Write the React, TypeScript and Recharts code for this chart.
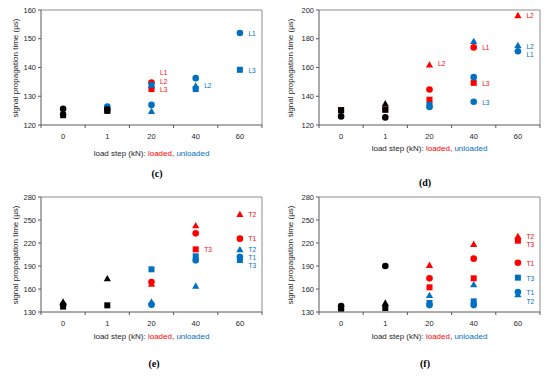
import React from 'react';
import { ScatterChart, Scatter, XAxis, YAxis, ReferenceLine } from 'recharts';

const categories = ['0', '1', '20', '40', '60'];
type Pt = [string, number];
type Lb = [string, number, string];

const RED = '#FF0000';
const BLUE = '#0070C0';
const BLACK = '#000000';

// Panel (c)
const cBlackCircle: Pt[] = [['0', 125.6], ['1', 125.5]];
const cBlackTriangle: Pt[] = [['0', 124.4], ['1', 125.3]];
const cBlackSquare: Pt[] = [['0', 123.4], ['1', 124.9]];
const cRedCircle: Pt[] = [['20', 134.8]];
const cRedTriangle: Pt[] = [['20', 133.6]];
const cRedSquare: Pt[] = [['20', 132.5]];
const cBlueCircle: Pt[] = [['1', 126.4], ['20', 127], ['40', 136.3], ['60', 152]];
const cBlueTriangle: Pt[] = [['20', 124.8], ['40', 133.6]];
const cBlueSquare: Pt[] = [['20', 133.9], ['40', 132.5], ['60', 139.2]];
const cRedLabels: Lb[] = [['20', 138.4, 'L1'], ['20', 135.3, 'L2'], ['20', 132.2, 'L3']];
const cBlueLabels: Lb[] = [['40', 133.9, 'L2'], ['60', 151.8, 'L1'], ['60', 139, 'L3']];
const cTicks = [120, 130, 140, 150, 160];

// Panel (d)
const dBlackCircle: Pt[] = [['0', 126], ['1', 125.3]];
const dBlackTriangle: Pt[] = [['1', 134.8]];
const dBlackSquare: Pt[] = [['0', 130.3], ['1', 130.6]];
const dRedCircle: Pt[] = [['20', 144.7], ['40', 174]];
const dRedTriangle: Pt[] = [['20', 161.8], ['60', 196.2]];
const dRedSquare: Pt[] = [['0', 130.4], ['1', 130.8], ['20', 137.6], ['40', 149.3]];
const dBlueCircle: Pt[] = [['20', 132.6], ['40', 153.3], ['40', 136.2], ['60', 171.3]];
const dBlueTriangle: Pt[] = [['40', 178.2], ['60', 175.4]];
const dBlueSquare: Pt[] = [['20', 134]];
const dRedLabels: Lb[] = [['20', 163, 'L2'], ['40', 173.6, 'L1'], ['40', 149, 'L3'], ['60', 196.2, 'L2']];
const dBlueLabels: Lb[] = [['40', 135.9, 'L3'], ['60', 174.7, 'L2'], ['60', 168.7, 'L1']];
const dTicks = [120, 140, 160, 180, 200];

// Panel (e)
const eBlackCircle: Pt[] = [['0', 139.5]];
const eBlackTriangle: Pt[] = [['0', 143], ['1', 173.5]];
const eBlackSquare: Pt[] = [['0', 137], ['1', 138.7]];
const eRedCircle: Pt[] = [['20', 169.1], ['40', 232.6], ['60', 225.7]];
const eRedTriangle: Pt[] = [['20', 166.5], ['40', 242.6], ['60', 257.4]];
const eRedSquare: Pt[] = [['40', 211.7]];
const eBlueCircle: Pt[] = [['20', 139.6], ['40', 197.4], ['60', 202]];
const eBlueTriangle: Pt[] = [['20', 143], ['40', 163.9], ['60', 211.3]];
const eBlueSquare: Pt[] = [['20', 185.7], ['40', 202.6], ['60', 197.8]];
const eRedLabels: Lb[] = [['60', 257.4, 'T2'], ['60', 225.7, 'T1'], ['40', 210.9, 'T3']];
const eBlueLabels: Lb[] = [['60', 211.2, 'T2'], ['60', 201.2, 'T1'], ['60', 190.8, 'T3']];
const efTicks = [130, 160, 190, 220, 250, 280];

// Panel (f)
const fBlackCircle: Pt[] = [['0', 137.8], ['1', 190]];
const fBlackTriangle: Pt[] = [['0', 136.5], ['1', 141.7]];
const fBlackSquare: Pt[] = [['0', 134.5], ['1', 135.2]];
const fRedCircle: Pt[] = [['20', 173.9], ['40', 199.6], ['60', 194.3]];
const fRedTriangle: Pt[] = [['20', 190.9], ['40', 218.3], ['60', 228.7]];
const fRedSquare: Pt[] = [['20', 162.2], ['40', 173.9], ['60', 223]];
const fBlueCircle: Pt[] = [['20', 139], ['40', 139], ['60', 156.1]];
const fBlueTriangle: Pt[] = [['20', 151.7], ['40', 165.7], ['60', 152.6]];
const fBlueSquare: Pt[] = [['20', 141.7], ['40', 143.9], ['60', 174.8]];
const fRedLabels: Lb[] = [['60', 228.9, 'T2'], ['60', 218.1, 'T3'], ['60', 193.9, 'T1']];
const fBlueLabels: Lb[] = [['60', 174.3, 'T3'], ['60', 155.2, 'T1'], ['60', 143.9, 'T2']];

const FONT = '"Liberation Sans", Arial, sans-serif';
const AXIS = '#595959';
const FRAME = '#8c8c8c';

type Shape = 'circle' | 'triangle' | 'square';
interface Series { pts: Pt[]; color: string; shape: Shape }

const toData = (pts: Pt[]) => pts.map(([c, v]) => ({ x: categories.indexOf(c), y: v }));
const toLabelData = (lbs: Lb[]) => lbs.map(([c, v, t]) => ({ x: categories.indexOf(c), y: v, t }));

const makeShape = (shape: Shape, color: string) => (props: any) => {
  const { cx, cy } = props;
  if (cx == null || cy == null) return <g />;
  if (shape === 'circle') return <circle cx={cx} cy={cy} r={3.3} fill={color} />;
  if (shape === 'square') return <rect x={cx - 3} y={cy - 3} width={6} height={6} fill={color} />;
  return (
    <polygon
      points={`${cx},${cy - 3.7} ${cx - 3.6},${cy + 2.7} ${cx + 3.6},${cy + 2.7}`}
      fill={color}
    />
  );
};

const makeLabel = (color: string) => (props: any) => {
  const { cx, cy, payload } = props;
  return (
    <text x={cx + 8.5} y={cy} dominantBaseline="central" fontSize={6.6} fill={color} fontFamily={FONT}>
      {payload.t}
    </text>
  );
};

const XTick = (props: any) => {
  const { x, y, payload } = props;
  const v = payload.value;
  if (Math.abs(v % 1) > 0.01) {
    return <line x1={x} x2={x} y1={y} y2={y + 3} stroke={AXIS} strokeWidth={1} />;
  }
  return (
    <text x={x} y={y + 11} textAnchor="middle" dominantBaseline="central" fontSize={7.5} fill="#262626" fontFamily={FONT}>
      {categories[v]}
    </text>
  );
};

const xTicks = [-0.5, 0, 0.5, 1, 1.5, 2, 2.5, 3, 3.5, 4, 4.5];

interface PanelProps {
  left: number;
  top: number;
  plotLeft: number;
  plotRight: number;
  yTicks: number[];
  series: Series[];
  redLabels: Lb[];
  blueLabels: Lb[];
  xTitleY: number;
  caption: string;
  capX: number;
  capY: number;
}

function Panel(p: PanelProps) {
  const W = 275;
  const H = 190;
  const yMin = p.yTicks[0];
  const yMax = p.yTicks[p.yTicks.length - 1];
  const yAxisW = 30;
  return (
    <>
      <div style={{ position: 'absolute', left: p.left, top: p.top, width: W, height: H }}>
        <ScatterChart
          width={W}
          height={H}
          margin={{ top: 10, right: W - p.plotRight, bottom: 45, left: p.plotLeft - yAxisW }}
        >
          <XAxis
            type="number"
            dataKey="x"
            domain={[-0.5, 4.5]}
            ticks={xTicks}
            interval={0}
            tickLine={false}
            tickSize={0}
            tickMargin={0}
            height={20}
            tick={<XTick />}
            stroke={AXIS}
            allowDataOverflow
          />
          <YAxis
            type="number"
            dataKey="y"
            domain={[yMin, yMax]}
            ticks={p.yTicks}
            interval={0}
            width={yAxisW}
            tickSize={3}
            tickMargin={2}
            stroke={AXIS}
            tick={{ fontSize: 7.5, fill: '#262626', fontFamily: FONT }}
            allowDataOverflow
          />
          <ReferenceLine y={yMax} stroke={FRAME} strokeWidth={1} />
          <ReferenceLine x={4.5} stroke={FRAME} strokeWidth={1} />
          {p.series.map((s, i) => (
            <Scatter
              key={i}
              data={toData(s.pts)}
              fill={s.color}
              shape={makeShape(s.shape, s.color)}
              isAnimationActive={false}
            />
          ))}
          <Scatter data={toLabelData(p.redLabels)} shape={makeLabel(RED)} isAnimationActive={false} />
          <Scatter data={toLabelData(p.blueLabels)} shape={makeLabel(BLUE)} isAnimationActive={false} />
        </ScatterChart>
      </div>
      <div
        style={{
          position: 'absolute',
          left: p.left + 15,
          top: p.top + 68,
          transform: 'translate(-50%, -50%) rotate(-90deg)',
          whiteSpace: 'nowrap',
          fontFamily: FONT,
          fontSize: 8,
          color: '#262626',
        }}
      >
        signal propagation time (µs)
      </div>
      <div
        style={{
          position: 'absolute',
          left: p.left + (p.plotLeft + p.plotRight) / 2,
          top: p.xTitleY,
          transform: 'translate(-50%, -50%)',
          whiteSpace: 'nowrap',
          fontFamily: FONT,
          fontSize: 8,
          color: '#262626',
        }}
      >
        load step (kN): <span style={{ color: RED }}>loaded</span>, <span style={{ color: BLUE }}>unloaded</span>
      </div>
      <div
        style={{
          position: 'absolute',
          left: p.capX,
          top: p.capY,
          transform: 'translate(-50%, -50%)',
          whiteSpace: 'nowrap',
          fontFamily: '"Liberation Serif", "Times New Roman", serif',
          fontSize: 10,
          fontWeight: 'bold',
          color: '#000',
        }}
      >
        {p.caption}
      </div>
    </>
  );
}

const seriesOf = (
  rc: Pt[], rt: Pt[], rs: Pt[], bc: Pt[], bt: Pt[], bs: Pt[], kc: Pt[], kt: Pt[], ks: Pt[]
): Series[] => [
  { pts: rt, color: RED, shape: 'triangle' },
  { pts: rs, color: RED, shape: 'square' },
  { pts: rc, color: RED, shape: 'circle' },
  { pts: bt, color: BLUE, shape: 'triangle' },
  { pts: bc, color: BLUE, shape: 'circle' },
  { pts: bs, color: BLUE, shape: 'square' },
  { pts: kc, color: BLACK, shape: 'circle' },
  { pts: kt, color: BLACK, shape: 'triangle' },
  { pts: ks, color: BLACK, shape: 'square' },
];

export default function App() {
  return (
    <div style={{ position: 'absolute', left: 0, top: 0, width: 550, height: 378, background: '#fff', overflow: 'hidden' }}>
      <Panel
        left={0}
        top={0}
        plotLeft={41}
        plotRight={262}
        yTicks={cTicks}
        series={seriesOf(cRedCircle, cRedTriangle, cRedSquare, cBlueCircle, cBlueTriangle, cBlueSquare, cBlackCircle, cBlackTriangle, cBlackSquare)}
        redLabels={cRedLabels}
        blueLabels={cBlueLabels}
        xTitleY={153}
        caption="(c)"
        capX={157}
        capY={173}
      />
      <Panel
        left={275}
        top={0}
        plotLeft={44}
        plotRight={265}
        yTicks={dTicks}
        series={seriesOf(dRedCircle, dRedTriangle, dRedSquare, dBlueCircle, dBlueTriangle, dBlueSquare, dBlackCircle, dBlackTriangle, dBlackSquare)}
        redLabels={dRedLabels}
        blueLabels={dBlueLabels}
        xTitleY={148}
        caption="(d)"
        capX={425}
        capY={182}
      />
      <Panel
        left={0}
        top={187}
        plotLeft={41}
        plotRight={262}
        yTicks={efTicks}
        series={seriesOf(eRedCircle, eRedTriangle, eRedSquare, eBlueCircle, eBlueTriangle, eBlueSquare, eBlackCircle, eBlackTriangle, eBlackSquare)}
        redLabels={eRedLabels}
        blueLabels={eBlueLabels}
        xTitleY={336}
        caption="(e)"
        capX={154}
        capY={363}
      />
      <Panel
        left={275}
        top={187}
        plotLeft={44}
        plotRight={265}
        yTicks={efTicks}
        series={seriesOf(fRedCircle, fRedTriangle, fRedSquare, fBlueCircle, fBlueTriangle, fBlueSquare, fBlackCircle, fBlackTriangle, fBlackSquare)}
        redLabels={fRedLabels}
        blueLabels={fBlueLabels}
        xTitleY={336}
        caption="(f)"
        capX={425}
        capY={363}
      />
    </div>
  );
}
